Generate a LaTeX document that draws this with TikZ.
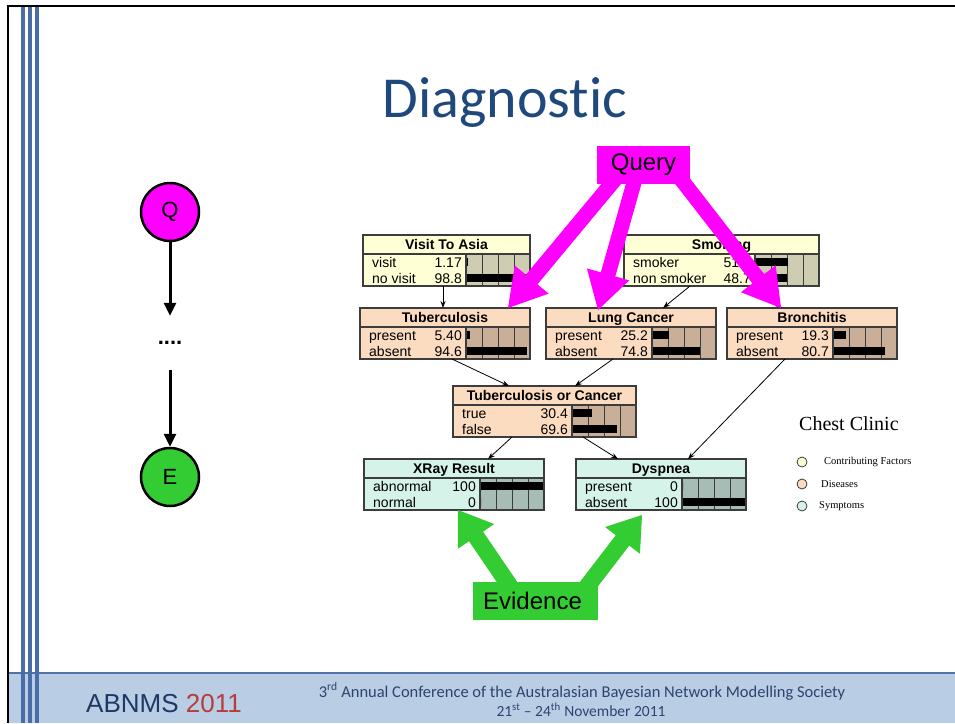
\documentclass[tikz,border=0pt]{standalone}
\usepackage{fontspec}
\setmainfont{Liberation Sans}
\newfontfamily\calibrifont[Ligatures={NoCommon}]{Carlito}
\newfontfamily\timesfont{Liberation Serif}
\usetikzlibrary{calc,arrows.meta}

\definecolor{yelbody}{HTML}{FFFFD6}
\definecolor{yelbar}{HTML}{CFCDB1}
\definecolor{disbody}{HTML}{FCDCC0}
\definecolor{disbar}{HTML}{C9AF98}
\definecolor{symbody}{HTML}{D6F3EA}
\definecolor{symbar}{HTML}{A6BDB5}
\definecolor{frameline}{HTML}{3C3C3C}
\definecolor{querymag}{HTML}{FF00FF}
\definecolor{evidgreen}{HTML}{33CC33}
\definecolor{titleblue}{HTML}{1F497D}
\definecolor{footband}{HTML}{B9CDE5}
\definecolor{footedge}{HTML}{4F72A8}
\definecolor{stripeblue}{HTML}{4A6DA8}
\definecolor{abnmsblue}{HTML}{1F3864}
\definecolor{abnmsred}{HTML}{B83C3C}
\definecolor{confblue}{HTML}{2E4470}

\tikzset{
  bnholder/.style={anchor=north west, minimum height=51pt, inner sep=0pt, outer sep=0pt, draw=none},
  bntitle/.style={font=\bfseries\fontsize{14}{16}\selectfont, inner sep=0pt},
  bntext/.style={font=\fontsize{14}{16}\selectfont, inner sep=0pt},
  bnframe/.style={draw=frameline, line width=1.1pt},
  bngrid/.style={draw=frameline, line width=0.9pt},
  bnedge/.style={draw=black, line width=0.8pt, -{Stealth[length=7pt,width=5pt]}},
  qeball/.style={circle, draw=black, line width=2.5pt, minimum size=58pt, inner sep=0pt,
                 font=\fontsize{22}{24}\selectfont},
  qearrow/.style={draw=black, line width=3pt, -{Triangle[length=13pt,width=12pt]}},
  legdot/.style={circle, draw=frameline, line width=0.8pt, minimum size=10pt, inner sep=0pt},
  legtext/.style={font=\timesfont\fontsize{10.5}{12}\selectfont, anchor=west, inner sep=0pt},
  bigbox/.style={inner sep=0pt, font=\fontsize{24}{26}\selectfont},
}

% Belief-net node: name, top-left corner, width, title, colour scheme, rows (label/value)
\newcommand\bnnode[6]{%
  \node[bnholder, minimum width=#3pt, fill=#5body] (#1) at (#2) {};
  \begin{scope}[shift={(#1.north west)}]
    \pgfmathsetmacro\bnbarx{#3-64}
    \fill[#5bar] (\bnbarx,19) rectangle (#3,51);
    \foreach \k in {1,2,3} \draw[bngrid] (\bnbarx+16*\k,19) -- (\bnbarx+16*\k,51);
    \node[bntitle, anchor=base] at (#3/2,14.5) {#4};
    \foreach \lab/\val [count=\bnrow] in {#6} {
      \pgfmathsetmacro\bnyc{11+16*\bnrow}
      \node[bntext, anchor=base west] at (9,\bnyc+5) {\lab};
      \node[bntext, anchor=base east] at (\bnbarx-4,\bnyc+5) {\val};
      \fill[black] (\bnbarx+1,\bnyc-4) rectangle ++(\val*0.63,8);
    }
    \draw[bnframe] (\bnbarx,19) -- (\bnbarx,51);
    \draw[bnframe] (0,19) -- (#3,19);
    \draw[bnframe] (0,0) rectangle (#3,51);
  \end{scope}
}

% Block arrow: tail, tip, colour, half shaft width, half head width, head length
\newcommand\fatarrow[6]{%
  \coordinate (fa-base) at ($(#2)!#6!(#1)$);
  \fill[#3] ($(#1)!#4!90:(#2)$) -- ($(fa-base)!#4!-90:(#1)$) -- ($(fa-base)!#5!-90:(#1)$)
    -- (#2) -- ($(fa-base)!#5!90:(#1)$) -- ($(fa-base)!#4!90:(#1)$)
    -- ($(#1)!#4!-90:(#2)$) -- cycle;
}

\begin{document}
\begin{tikzpicture}[x=1pt,y=-1pt]
\useasboundingbox (0,0) rectangle (955,723);
\fill[white] (0,0) rectangle (955,723);

% slide frame, footer band and side stripes
\fill[footband] (8,673) rectangle (955,723);
\draw[footedge, line width=2pt] (8,673) -- (955,673);
\draw[black, line width=2.2pt] (8,723) -- (8,6) -- (955,6);
\foreach \sx in {23,30,37} \draw[stripeblue, line width=3.5pt] (\sx,7) -- (\sx,723);

% heading
\node[font=\calibrifont\fontsize{58}{62}\selectfont, text=titleblue, anchor=base, inner sep=0pt]
  (title) at (505,117) {Diagnostic};

% footer
\node[font=\fontsize{26}{28}\selectfont, text=abnmsblue, anchor=base west, inner sep=0pt]
  (abnms) at (86,712) {ABNMS \textcolor{abnmsred}{2011}};
\node[font=\calibrifont\fontsize{16.5}{18}\selectfont, text=confblue, anchor=base, inner sep=0pt]
  (conf1) at (582,697) {3\textsuperscript{rd} Annual Conference of the Australasian Bayesian Network Modelling Society};
\node[font=\calibrifont\fontsize{15.5}{18}\selectfont, text=confblue, anchor=base, inner sep=0pt]
  (conf2) at (581,716) {21\textsuperscript{st} – 24\textsuperscript{th} November 2011};

% Chest Clinic network
\bnnode{visit}{363,235}{167}{Visit To Asia}{yel}{visit/1.17, no visit/98.8}
\bnnode{smoke}{624,235}{195}{Smoking}{yel}{smoker/51.3, non smoker/48.7}
\bnnode{tub}{360,308}{170}{Tuberculosis}{dis}{present/5.40, absent/94.6}
\bnnode{lung}{546,308}{170}{Lung Cancer}{dis}{present/25.2, absent/74.8}
\bnnode{bron}{727,308}{170}{Bronchitis}{dis}{present/19.3, absent/80.7}
\bnnode{tbc}{453,386}{183}{Tuberculosis or Cancer}{dis}{true/30.4, false/69.6}
\bnnode{xray}{364,459}{180}{XRay Result}{sym}{abnormal/100, normal/0}
\bnnode{dysp}{576,459}{170}{Dyspnea}{sym}{present/0, absent/100}

\draw[bnedge] ([xshift=80pt]visit.south west) -- ([xshift=83pt]tub.north west);
\draw[bnedge] ([xshift=66pt]smoke.south west) -- ([xshift=117pt]lung.north west);
\draw[bnedge] ([xshift=128pt]smoke.south west) -- ([xshift=55pt]bron.north west);
\draw[bnedge] ([xshift=92pt]tub.south west) -- ([xshift=56pt]tbc.north west);
\draw[bnedge] ([xshift=67pt]lung.south west) -- ([xshift=122pt]tbc.north west);
\draw[bnedge] ([xshift=59pt]tbc.south west) -- ([xshift=124pt]xray.north west);
\draw[bnedge] ([xshift=130pt]tbc.south west) -- ([xshift=42pt]dysp.north west);
\draw[bnedge] ([xshift=58pt]bron.south west) -- ([xshift=112pt]dysp.north west);

% legend
\node[font=\timesfont\fontsize{20}{22}\selectfont, anchor=base west, inner sep=0pt]
  (legtitle) at (799,430) {Chest Clinic};
\node[legdot, fill=yelbody] (leg1) at (802,462) {};
\node[legdot, fill=disbody] (leg2) at (802,484) {};
\node[legdot, fill=symbody] (leg3) at (802,506) {};
\node[legtext] (leg1t) at (824,462) {Contributing Factors};
\node[legtext] (leg2t) at (821,484) {Diseases};
\node[legtext] (leg3t) at (819,506) {Symptoms};

% query arrows
\node[bigbox, fill=querymag, minimum width=93pt, minimum height=38pt] (query) at (643.5,165) {};
\coordinate (qt-tub) at ([xshift=-16.5pt]query.center);
\coordinate (qt-lung) at ([xshift=-4.5pt]query.center);
\coordinate (qt-bron) at ([xshift=26.5pt]query.center);
\coordinate (qh-tub) at ([xshift=148pt]tub.north west);
\coordinate (qh-lung) at ([xshift=52pt,yshift=-2pt]lung.north west);
\coordinate (qh-bron) at ([xshift=54pt]bron.north west);
\fatarrow{qt-tub}{qh-tub}{querymag}{7.5pt}{22pt}{37pt}
\fatarrow{qt-lung}{qh-lung}{querymag}{7.5pt}{22pt}{37pt}
\fatarrow{qt-bron}{qh-bron}{querymag}{7.5pt}{22pt}{37pt}
\node[bigbox] at (query) {Query};

% evidence arrows
\node[bigbox, fill=evidgreen, minimum width=125pt, minimum height=38pt] (evid) at (535.5,601) {};
\coordinate (et-xray) at ([xshift=-15.5pt]evid.center);
\coordinate (et-dysp) at ([xshift=40.5pt]evid.center);
\coordinate (eh-xray) at ([xshift=94pt]xray.south west);
\coordinate (eh-dysp) at ([xshift=66pt,yshift=-5pt]dysp.south west);
\fatarrow{et-xray}{eh-xray}{evidgreen}{8.5pt}{22pt}{32pt}
\fatarrow{et-dysp}{eh-dysp}{evidgreen}{8.5pt}{22pt}{32pt}
\node[bigbox] at ([xshift=-3pt]evid.center) {Evidence};

% query / evidence chain
\node[qeball, fill=querymag] (Q) at (170,212) {Q};
\node[font=\bfseries\fontsize{22}{24}\selectfont, minimum height=54pt, inner sep=0pt] (dots) at (170,343) {....};
\node[qeball, fill=evidgreen] (E) at (170,477) {E};
\draw[qearrow] (Q.south) -- (dots.north);
\draw[qearrow] (dots.south) -- (E.north);
\end{tikzpicture}
\end{document}
